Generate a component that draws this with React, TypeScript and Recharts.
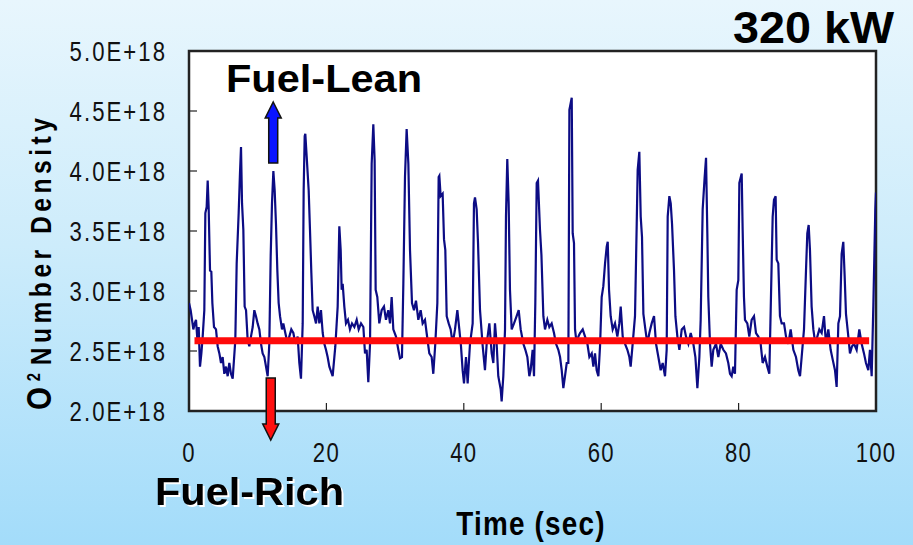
import { LineChart, Line, XAxis, YAxis, CartesianGrid, ReferenceArea, ReferenceDot } from "recharts";

// O2 number density trace (units of 1E+18)
const timeSec = [
  0.0, 0.24, 0.44, 0.63, 0.83, 1.02, 1.26, 1.41, 1.6, 1.8, 1.99, 2.23, 2.38, 2.57, 2.72, 2.86, 3.06, 3.25, 3.4, 3.64,
  3.93, 4.17, 4.42, 4.66, 4.9, 5.14, 5.39, 5.63, 5.87, 6.11, 6.36, 6.74, 6.94, 7.23, 7.42, 7.57, 7.72, 7.91, 8.1, 8.3,
  8.54, 8.78, 9.02, 9.27, 9.51, 9.75, 9.99, 10.24, 10.48, 10.72, 10.97, 11.21, 11.45, 11.69, 11.89, 12.08, 12.28, 12.47, 12.66, 12.86,
  13.05, 13.25, 13.54, 13.73, 14.02, 14.36, 14.6, 14.89, 15.19, 15.48, 15.82, 16.06, 16.3, 16.55, 16.69, 16.84, 16.93, 17.13, 17.42, 17.61,
  17.81, 18.0, 18.24, 18.49, 18.73, 18.97, 19.21, 19.46, 19.7, 19.94, 20.18, 20.43, 20.91, 21.3, 21.64, 21.79, 21.88, 22.08, 22.22, 22.37,
  22.61, 22.85, 23.14, 23.43, 23.73, 24.07, 24.41, 24.7, 25.04, 25.38, 25.62, 25.86, 26.1, 26.35, 26.59, 26.83, 27.02, 27.17, 27.41, 27.7,
  28.04, 28.38, 28.67, 29.01, 29.26, 29.5, 29.74, 30.13, 30.47, 30.71, 31.0, 31.2, 31.44, 31.68, 31.93, 32.17, 32.46, 32.75, 33.04, 33.38,
  33.72, 34.01, 34.35, 34.59, 34.98, 35.32, 35.56, 35.85, 36.15, 36.34, 36.44, 36.63, 36.92, 37.12, 37.31, 37.51, 37.8, 38.09, 38.38, 38.72,
  39.06, 39.35, 39.59, 39.83, 40.03, 40.32, 40.56, 40.9, 41.29, 41.48, 41.63, 41.87, 42.07, 42.36, 42.75, 43.08, 43.33, 43.72, 44.06, 44.3,
  44.54, 44.78, 45.02, 45.37, 45.51, 45.75, 46.0, 46.14, 46.33, 46.53, 46.72, 46.97, 47.31, 47.69, 47.99, 48.28, 48.67, 48.96, 49.25, 49.54,
  49.73, 50.02, 50.22, 50.41, 50.61, 50.8, 51.09, 51.3, 51.58, 51.82, 52.16, 52.45, 52.79, 53.13, 53.42, 53.76, 54.01, 54.25, 54.49, 54.73,
  54.98, 55.22, 55.37, 55.71, 55.85, 56.04, 56.19, 56.43, 56.68, 56.92, 57.31, 57.65, 57.99, 58.28, 58.62, 58.86, 59.1, 59.34, 59.59, 59.83,
  60.07, 60.31, 60.56, 60.8, 60.95, 61.14, 61.38, 61.67, 62.01, 62.35, 62.64, 62.84, 63.13, 63.47, 63.81, 64.1, 64.29, 64.58, 64.92, 65.17,
  65.31, 65.55, 65.75, 65.94, 66.14, 66.43, 66.72, 67.01, 67.35, 67.69, 67.98, 68.32, 68.66, 68.95, 69.29, 69.53, 69.68, 69.92, 70.12, 70.31,
  70.6, 70.8, 71.09, 71.38, 71.72, 72.06, 72.35, 72.69, 73.03, 73.41, 73.71, 74.0, 74.29, 74.48, 74.77, 75.06, 75.26, 75.45, 75.59, 75.84,
  76.08, 76.32, 76.71, 77.05, 77.39, 77.78, 78.16, 78.5, 78.75, 78.99, 79.23, 79.47, 79.72, 79.96, 80.11, 80.45, 80.59, 80.78, 80.93, 81.27,
  81.56, 81.9, 82.24, 82.53, 82.87, 83.21, 83.5, 83.84, 84.18, 84.47, 84.67, 84.96, 85.15, 85.39, 85.54, 85.78, 86.02, 86.27, 86.61, 86.9,
  87.24, 87.58, 87.97, 88.35, 88.69, 88.94, 89.18, 89.52, 89.81, 90.0, 90.2, 90.39, 90.63, 90.88, 91.17, 91.46, 91.75, 92.09, 92.43, 92.72,
  93.06, 93.4, 93.69, 94.03, 94.27, 94.52, 94.76, 95.0, 95.24, 95.44, 95.63, 95.92, 96.21, 96.51, 96.8, 97.18, 97.57, 97.91, 98.25, 98.54,
  98.88, 99.12, 99.37, 99.61, 99.9, 100.0,
];

const o2Density = [
  2.9, 2.84, 2.76, 2.68, 2.73, 2.76, 2.56, 2.7, 2.37, 2.48, 2.62, 2.84, 3.65, 3.7, 3.92, 3.7, 3.17, 3.16, 2.9, 2.7,
  2.68, 2.54, 2.48, 2.4, 2.45, 2.31, 2.37, 2.29, 2.4, 2.31, 2.27, 2.59, 3.23, 3.65, 3.98, 4.2, 3.73, 3.51, 2.87, 2.84,
  2.59, 2.54, 2.62, 2.7, 2.84, 2.79, 2.73, 2.68, 2.56, 2.48, 2.45, 2.37, 2.29, 2.56, 3.29, 3.73, 4.0, 3.84, 3.56, 3.17,
  2.9, 2.79, 2.68, 2.73, 2.65, 2.56, 2.62, 2.68, 2.65, 2.56, 2.62, 2.4, 2.27, 2.73, 3.84, 4.29, 4.31, 4.12, 3.84, 3.51,
  3.15, 2.84, 2.79, 2.73, 2.87, 2.73, 2.84, 2.65, 2.56, 2.51, 2.45, 2.37, 2.29, 2.54, 2.87, 3.29, 3.54, 3.34, 3.01, 3.06,
  2.87, 2.73, 2.76, 2.68, 2.73, 2.7, 2.76, 2.68, 2.73, 2.7, 2.48, 2.51, 2.24, 2.56, 4.06, 4.39, 4.09, 3.01, 2.95, 2.73,
  2.84, 2.87, 2.76, 2.84, 2.73, 2.95, 2.68, 2.62, 2.51, 2.44, 2.45, 3.06, 3.95, 4.35, 4.06, 3.34, 2.9, 2.84, 2.92, 2.76,
  2.84, 2.73, 2.76, 2.65, 2.48, 2.45, 2.31, 2.56, 2.9, 3.95, 3.96, 3.79, 3.81, 3.43, 3.34, 2.79, 2.73, 2.68, 2.56, 2.68,
  2.84, 2.68, 2.54, 2.34, 2.23, 2.45, 2.23, 2.56, 2.73, 3.73, 3.78, 3.68, 3.4, 2.84, 2.54, 2.34, 2.56, 2.73, 2.48, 2.4,
  2.73, 2.56, 2.29, 2.18, 2.08, 2.29, 2.68, 3.62, 4.1, 3.73, 3.01, 2.68, 2.73, 2.79, 2.84, 2.68, 2.56, 2.51, 2.45, 2.29,
  2.34, 2.51, 2.29, 2.9, 3.9, 3.92, 3.51, 3.3, 2.79, 2.68, 2.76, 2.7, 2.73, 2.65, 2.56, 2.51, 2.45, 2.34, 2.19, 2.29,
  2.4, 2.4, 4.51, 4.61, 3.48, 3.4, 2.68, 2.56, 2.62, 2.65, 2.68, 2.62, 2.56, 2.45, 2.48, 2.37, 2.48, 2.34, 2.29, 2.54,
  2.95, 3.04, 3.23, 3.37, 3.41, 3.01, 2.79, 2.68, 2.73, 2.62, 2.73, 2.87, 2.62, 2.56, 2.51, 2.45, 2.37, 2.56, 2.79, 3.56,
  4.01, 4.16, 3.62, 3.45, 2.81, 2.68, 2.56, 2.65, 2.73, 2.79, 2.56, 2.45, 2.34, 2.4, 2.29, 2.51, 3.62, 3.79, 3.73, 3.56,
  3.17, 2.79, 2.62, 2.51, 2.68, 2.7, 2.62, 2.56, 2.65, 2.56, 2.45, 2.19, 2.45, 2.76, 3.68, 3.95, 4.11, 3.48, 2.95, 2.56,
  2.37, 2.51, 2.56, 2.45, 2.56, 2.51, 2.48, 2.4, 2.31, 2.29, 2.37, 2.31, 3.01, 3.09, 3.9, 3.98, 3.51, 2.95, 2.76, 2.73,
  2.62, 2.76, 2.79, 2.65, 2.62, 2.56, 2.4, 2.45, 2.37, 2.31, 2.84, 3.62, 3.76, 3.79, 3.26, 3.23, 2.79, 2.73, 2.73, 2.62,
  2.56, 2.68, 2.51, 2.45, 2.34, 2.29, 2.45, 2.68, 3.17, 3.48, 3.55, 3.34, 2.87, 2.68, 2.56, 2.62, 2.68, 2.65, 2.79, 2.56,
  2.68, 2.51, 2.43, 2.34, 2.2, 2.73, 2.79, 3.31, 3.41, 3.12, 2.81, 2.65, 2.48, 2.54, 2.56, 2.51, 2.68, 2.56, 2.48, 2.4,
  2.34, 2.51, 2.29, 2.87, 3.68, 3.82,
];

// time-averaged level (red bar) and its span in seconds
const meanLevel = 2.585;
const meanSpan = [0.8, 99.0];

const xTicks = [0, 20, 40, 60, 80, 100];
const yTicks = [2.0, 2.5, 3.0, 3.5, 4.0, 4.5, 5.0];

const trace = timeSec.map((t, i) => ({ t, v: o2Density[i] }));
const meanLine = meanSpan.map((t) => ({ t, v: meanLevel }));

const sans = "'Liberation Sans', Arial, Helvetica, sans-serif";
const squeeze = 0.82; // narrow-face look, no condensed font installed

const XTick = ({ x, y, payload }: any) => (
  <g>
    <line x1={x} x2={x} y1={y} y2={y - 8} stroke="#222" strokeWidth={1.2} />
    <text
      transform={`translate(${x},${y + 51}) scale(${squeeze},1)`}
      textAnchor="middle"
      fontFamily={sans}
      fontSize={27}
      letterSpacing={1.5}
      fill="#111"
    >
      {payload.value}
    </text>
  </g>
);

const YTick = ({ x, y, payload }: any) => (
  <g>
    <line x1={x} x2={x + 8} y1={y} y2={y} stroke="#222" strokeWidth={1.2} />
    <text
      transform={`translate(${x - 22},${y + 9.5}) scale(${squeeze},1)`}
      textAnchor="end"
      fontFamily={sans}
      fontSize={27}
      letterSpacing={2.5}
      fill="#111"
    >
      {payload.value.toFixed(1)}E+18
    </text>
  </g>
);

const UpArrow = ({ cx, cy }: any) => (
  <path
    d={`M${cx} ${cy} L${cx + 8} ${cy + 16} L${cx + 4.5} ${cy + 16} L${cx + 4.5} ${cy + 61} L${cx - 4.5} ${cy + 61} L${cx - 4.5} ${cy + 16} L${cx - 8} ${cy + 16} Z`}
    fill="#0a14ff"
    stroke="#111"
    strokeWidth={1.5}
  />
);

const DownArrow = ({ cx, cy }: any) => (
  <path
    d={`M${cx - 4.5} ${cy} L${cx + 4.5} ${cy} L${cx + 4.5} ${cy + 46} L${cx + 8} ${cy + 46} L${cx} ${cy + 62} L${cx - 8} ${cy + 46} L${cx - 4.5} ${cy + 46} Z`}
    fill="#ff1010"
    stroke="#111"
    strokeWidth={1.5}
  />
);

export default function App() {
  return (
    <div
      style={{
        position: "absolute",
        left: 0,
        top: 0,
        width: 913,
        height: 545,
        background: "linear-gradient(180deg, #e8f6fd 0%, #cdecfb 45%, #a3dcfa 100%)",
      }}
    >
      <LineChart width={913} height={545} margin={{ top: 51, right: 37, bottom: 0, left: 0 }}>
        <CartesianGrid horizontal={false} vertical={false} fill="#ffffff" fillOpacity={1} />
        <XAxis
          type="number"
          dataKey="t"
          domain={[0, 100]}
          ticks={xTicks}
          height={134}
          tickSize={0}
          tickMargin={0}
          axisLine={false}
          tickLine={false}
          tick={<XTick />}
          allowDataOverflow
        />
        <YAxis
          type="number"
          domain={[2, 5]}
          ticks={yTicks}
          width={189}
          tickSize={0}
          tickMargin={0}
          axisLine={false}
          tickLine={false}
          tick={<YTick />}
          allowDataOverflow
        />
        <Line data={trace} dataKey="v" type="linear" stroke="#0c0c84" strokeWidth={2.2} dot={false} isAnimationActive={false} />
        <Line data={meanLine} dataKey="v" type="linear" stroke="#ff0a0a" strokeWidth={7} dot={false} isAnimationActive={false} />
        <ReferenceArea x1={0} x2={100} y1={2} y2={5} fill="none" stroke="#222" strokeWidth={2.5} ifOverflow="visible" />
        <ReferenceDot x={12.26} y={4.575} r={0} shape={<UpArrow />} ifOverflow="visible" />
        <ReferenceDot x={11.9} y={2.275} r={0} shape={<DownArrow />} ifOverflow="visible" />
        <text x={226} y={92} fontFamily={sans} fontWeight="bold" fontSize={38} textLength={196} lengthAdjust="spacingAndGlyphs" fill="#000">
          Fuel-Lean
        </text>
        <text
          x={155}
          y={505}
          fontFamily={sans}
          fontWeight="bold"
          fontSize={38}
          textLength={189}
          lengthAdjust="spacingAndGlyphs"
          fill="#000"
          style={{ filter: "drop-shadow(2px 2px 0 #ffffff)" }}
        >
          Fuel-Rich
        </text>
        <text x={733} y={43} fontFamily={sans} fontWeight="bold" fontSize={44} textLength={161} lengthAdjust="spacingAndGlyphs" fill="#000">
          320 kW
        </text>
        <text
          transform={`translate(531,535) scale(${squeeze},1)`}
          textAnchor="middle"
          fontFamily={sans}
          fontWeight="bold"
          fontSize={34}
          letterSpacing={1.5}
          fill="#000"
        >
          Time (sec)
        </text>
        <text
          transform={`translate(51,410) rotate(-90) scale(${squeeze},1)`}
          fontFamily={sans}
          fontWeight="bold"
          fontSize={30}
          letterSpacing={5.5}
          fill="#000"
        >
          <tspan fontSize={36} letterSpacing={0}>O</tspan>
          <tspan fontSize={18} dx={7} dy={-11}>2</tspan>
          <tspan dx={4} dy={11}>Number Density</tspan>
        </text>
      </LineChart>
    </div>
  );
}
